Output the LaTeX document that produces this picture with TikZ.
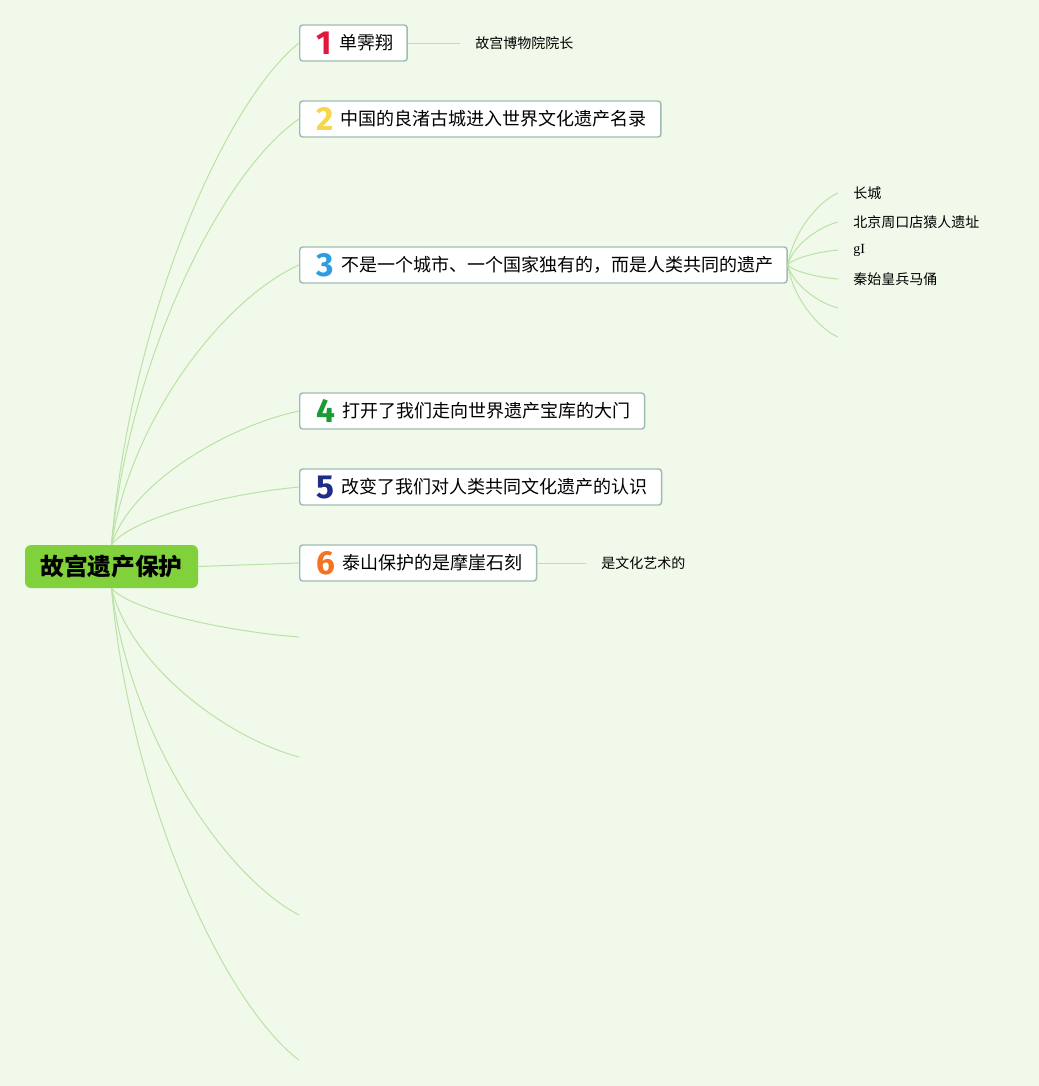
\documentclass[tikz,border=0pt]{standalone}
\usepackage{fontspec}
\setmainfont{Noto Sans CJK SC}
\newfontfamily\numfont{Fira Sans}
\newfontfamily\latinfont{Liberation Serif}
\usetikzlibrary{calc}

\definecolor{bgcol}{HTML}{F1F9EA}
\definecolor{rootgreen}{HTML}{80D13B}
\definecolor{topicedge}{HTML}{9FBCB4}
\definecolor{linkgreen}{HTML}{B9E2A6}
\definecolor{numred}{HTML}{E2173D}
\definecolor{numyellow}{HTML}{F8D549}
\definecolor{numblue}{HTML}{2C9DE0}
\definecolor{numgreen}{HTML}{1C9A33}
\definecolor{numnavy}{HTML}{1F2C8A}
\definecolor{numorange}{HTML}{F47322}

\newcommand\topicnum[2]{\hspace{2pt}\smash{\raisebox{-3.5pt}{\textcolor{#1}{\numfont\bfseries\fontsize{25}{25}\selectfont #2}}}\hspace{5.5pt}}

\tikzset{
  root/.style={fill=rootgreen, rounded corners=4.5pt, minimum width=129.75pt,
    minimum height=32.25pt, font=\bfseries\fontsize{17.8}{20}\selectfont},
  topic/.style={draw=topicedge, line width=1.1pt, fill=white, rounded corners=2.25pt,
    anchor=west, minimum height=27pt, inner xsep=10.5pt, inner ysep=2pt,
    font=\fontsize{13.5}{16}\selectfont},
  subtopic/.style={anchor=west, inner xsep=11.25pt, inner ysep=0pt,
    font=\fontsize{10.5}{12}\selectfont},
  link/.style={draw=linkgreen, line width=0.75pt},
  branch/.style={to path={let \p1=(\tikztostart), \p2=(\tikztotarget) in
    .. controls ({\x1+0.1*(\x2-\x1)},{\y1+0.45*(\y2-\y1)})
    and ({\x1+0.6*(\x2-\x1)},{\y2-0.12*(\y2-\y1)}) .. (\tikztotarget)}}
}

\begin{document}
\begin{tikzpicture}[x=0.75pt, y=-0.75pt]
  \fill[bgcol] (0,0) rectangle (1039,1086);
  \useasboundingbox (0,0) rectangle (1039,1086);

  % central topic
  \node[root] (root) at (111.5,566.5) {故宫遗产保护};

  % main topics
  \node[topic] (t1) at (299, 43) {\topicnum{numred}{1}单霁翔};
  \node[topic] (t2) at (299,119) {\topicnum{numyellow}{2}中国的良渚古城进入世界文化遗产名录};
  \node[topic] (t3) at (299,265) {\topicnum{numblue}{3}不是一个城市、一个国家独有的，而是人类共同的遗产};
  \node[topic] (t4) at (299,411) {\topicnum{numgreen}{4}打开了我们走向世界遗产宝库的大门};
  \node[topic] (t5) at (299,487) {\topicnum{numnavy}{5}改变了我们对人类共同文化遗产的认识};
  \node[topic] (t6) at (299,563) {\topicnum{numorange}{6}泰山保护的是摩崖石刻};

  % empty topics
  \coordinate (e1) at (299, 637);
  \coordinate (e2) at (299, 757);
  \coordinate (e3) at (299, 915);
  \coordinate (e4) at (299,1060);

  % subtopics
  \node[subtopic] (s1)  at (460, 43) {故宫博物院院长};
  \node[subtopic] (s31) at (838,193) {长城};
  \node[subtopic] (s32) at (838,222) {北京周口店猿人遗址};
  \node[subtopic] (s33) at (838,250) {\latinfont gI};
  \node[subtopic] (s34) at (838,279) {秦始皇兵马俑};
  \coordinate (s35) at (838,308);
  \coordinate (s36) at (838,337);
  \node[subtopic] (s6)  at (586,563) {是文化艺术的};

  % connectors
  \foreach \t in {t1,t2,t3,t4,t5}
    \draw[link] (root.north) to[branch] (\t.west);
  \draw[link] (root.east) -- (t6.west);
  \foreach \e in {e1,e2,e3,e4}
    \draw[link] (root.south) to[branch] (\e);

  \draw[link] (t1.east) -- (s1.west);
  \foreach \s in {s31,s32,s33,s34}
    \draw[link] (t3.east) to[branch] (\s.west);
  \foreach \s in {s35,s36}
    \draw[link] (t3.east) to[branch] (\s);
  \draw[link] (t6.east) -- (s6.west);
\end{tikzpicture}
\end{document}
